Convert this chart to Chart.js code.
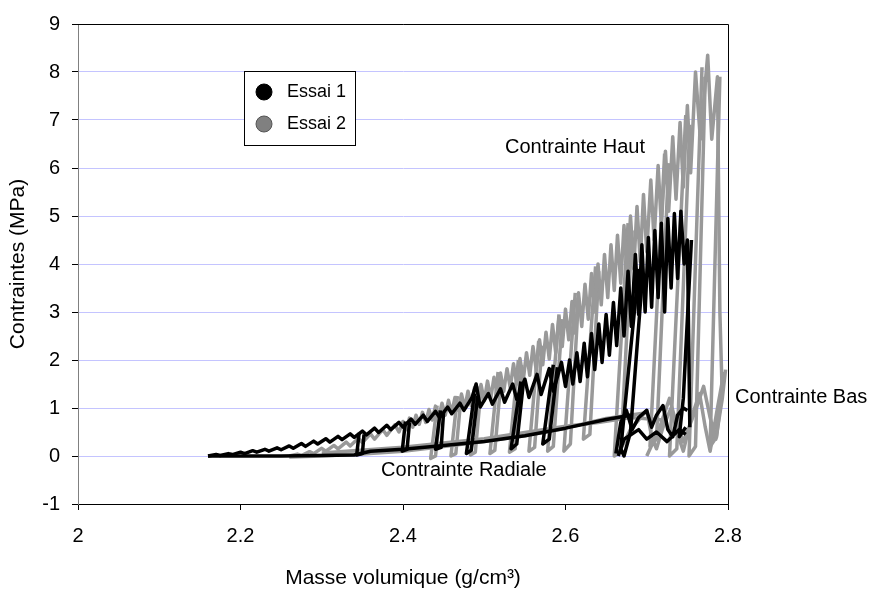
<!DOCTYPE html>
<html>
<head>
<meta charset="utf-8">
<script src="https://cdn.jsdelivr.net/npm/chart.js@4.4.1/dist/chart.umd.min.js"></script>
<style>
  html, body { margin: 0; padding: 0; background: #fff; }
  #wrap { width: 871px; height: 589px; }
</style>
</head>
<body>
<div id="wrap"><canvas id="chart" width="871" height="589"></canvas></div>
<script>
// Essai 1 (noir) : contrainte haut, cycles de decharge, radiale, bas
const essai1Haut = [[2.160,0.00],[2.170,0.03],[2.175,0.01],[2.185,0.05],[2.190,0.03],[2.200,0.08],[2.205,0.05],[2.215,0.11],[2.220,0.08],[2.230,0.14],[2.235,0.10],[2.245,0.17],[2.250,0.13],[2.260,0.21],[2.265,0.16],[2.275,0.26],[2.280,0.20],[2.290,0.31],[2.295,0.25],[2.305,0.36],[2.310,0.29],[2.320,0.41],[2.325,0.34],[2.335,0.46],[2.340,0.39],[2.350,0.52],[2.355,0.44],[2.365,0.58],[2.370,0.49],[2.380,0.64],[2.385,0.55],[2.395,0.70],[2.400,0.60],[2.410,0.77],[2.415,0.66],[2.425,0.85],[2.430,0.72],[2.440,0.93],[2.445,0.80],[2.455,1.02],[2.460,0.88],[2.470,1.10],[2.475,0.95],[2.485,1.22],[2.490,1.50],[2.495,1.02],[2.505,1.30],[2.510,1.08],[2.520,1.40],[2.525,1.12],[2.535,1.50],[2.540,1.18],[2.550,1.60],[2.555,1.22],[2.565,1.70],[2.570,1.28],[2.580,1.82],[2.585,1.35],[2.595,1.95],[2.600,1.45],[2.605,2.00],[2.609,1.50],[2.614,2.15],[2.618,1.55],[2.623,2.35],[2.627,1.65],[2.632,2.55],[2.636,1.80],[2.641,2.75],[2.645,1.95],[2.650,2.95],[2.654,2.10],[2.659,3.20],[2.663,2.30],[2.668,3.50],[2.672,2.50],[2.677,3.85],[2.681,2.70],[2.686,4.20],[2.690,2.95],[2.694,4.40],[2.698,3.00],[2.702,4.55],[2.706,3.10],[2.710,4.70],[2.714,3.30],[2.718,4.85],[2.722,3.00],[2.726,4.95],[2.730,3.50],[2.734,5.05],[2.738,3.70],[2.742,5.10],[2.746,4.00],[2.750,4.50],[2.753,0.60]];
const essai1Decharge = [[2.346,0.48],[2.343,0.02],[2.350,0.05],[2.352,0.45],null,[2.403,0.72],[2.399,0.10],[2.405,0.14],[2.408,0.70],null,[2.446,0.95],[2.440,0.14],[2.447,0.18],[2.450,0.92],null,[2.488,1.30],[2.478,0.05],[2.484,0.12],[2.492,1.25],null,[2.545,1.55],[2.533,0.15],[2.540,0.25],[2.548,1.50],null,[2.585,1.90],[2.572,0.25],[2.580,0.35],[2.590,1.85],null,[2.690,3.90],[2.668,0.15],[2.672,0.00],[2.680,0.50],[2.695,3.80],null,[2.755,4.50],[2.745,1.20],[2.740,0.40],[2.748,0.60]];
const essai1Radiale = [[2.160,0.00],[2.250,0.00],[2.340,0.02],[2.360,0.10],[2.400,0.14],[2.450,0.22],[2.500,0.30],[2.550,0.42],[2.600,0.58],[2.650,0.76],[2.680,0.85]];
const essai1Bas = [[2.662,0.05],[2.668,0.70],[2.675,0.95],[2.682,0.55],[2.690,0.80],[2.700,0.95],[2.706,0.60],[2.712,0.85],[2.720,1.05],[2.726,0.55],[2.732,0.40],[2.738,0.85],[2.745,1.00],[2.750,0.95],null,[2.665,0.00],[2.672,0.35],[2.690,0.55],[2.700,0.35],[2.712,0.50],[2.725,0.30],[2.740,0.55],[2.748,0.45]];

// Essai 2 (gris)
const essai2Haut = [[2.260,0.00],[2.270,0.04],[2.275,0.01],[2.285,0.09],[2.290,0.05],[2.300,0.16],[2.305,0.10],[2.315,0.22],[2.320,0.15],[2.330,0.29],[2.335,0.21],[2.345,0.37],[2.350,0.28],[2.360,0.46],[2.365,0.35],[2.375,0.55],[2.380,0.43],[2.390,0.65],[2.395,0.50],[2.400,0.72],[2.404,0.55],[2.408,0.79],[2.412,0.60],[2.416,0.85],[2.420,0.66],[2.424,0.91],[2.428,0.70],[2.432,0.97],[2.436,0.75],[2.440,1.04],[2.444,0.80],[2.448,1.10],[2.452,0.85],[2.456,1.16],[2.460,0.90],[2.464,1.22],[2.468,0.95],[2.472,1.29],[2.476,1.00],[2.480,1.35],[2.484,1.05],[2.488,1.42],[2.492,1.10],[2.496,1.49],[2.500,1.15],[2.504,1.56],[2.508,1.20],[2.512,1.64],[2.516,1.28],[2.520,1.73],[2.524,1.35],[2.528,1.82],[2.532,1.42],[2.536,1.92],[2.540,1.50],[2.544,2.03],[2.548,1.58],[2.552,2.15],[2.556,1.68],[2.560,2.28],[2.564,1.78],[2.568,2.42],[2.572,1.90],[2.576,2.58],[2.580,2.02],[2.584,2.74],[2.588,2.15],[2.592,2.90],[2.596,2.28],[2.600,3.06],[2.604,2.42],[2.608,3.22],[2.612,2.56],[2.616,3.40],[2.620,2.70],[2.624,3.58],[2.628,2.85],[2.632,3.80],[2.636,3.00],[2.640,4.00],[2.644,3.15],[2.648,4.20],[2.652,3.30],[2.656,4.40],[2.660,3.45],[2.664,4.60],[2.668,3.60],[2.672,4.80],[2.676,3.75],[2.680,5.00],[2.684,3.90],[2.688,5.20],[2.692,4.05],[2.696,5.45],[2.700,4.25],[2.705,5.75],[2.709,4.50],[2.714,6.05],[2.718,4.80],[2.723,6.35],[2.727,5.10],[2.732,6.65],[2.736,5.35],[2.741,6.95],[2.745,5.60],[2.750,7.30],[2.754,5.90],[2.760,8.00],[2.766,6.60],[2.775,8.35],[2.780,6.60],[2.787,7.90],[2.790,3.00],[2.793,1.20]];
const essai2Decharge = [[2.442,1.05],[2.434,-0.05],[2.440,0.00],[2.446,0.95],null,[2.467,1.25],[2.459,0.00],[2.465,0.05],[2.471,1.15],null,[2.492,1.45],[2.483,0.02],[2.489,0.08],[2.496,1.40],null,[2.517,1.75],[2.507,0.05],[2.513,0.12],[2.521,1.65],null,[2.542,2.00],[2.531,0.08],[2.538,0.15],[2.546,1.90],null,[2.567,2.40],[2.555,0.10],[2.562,0.18],[2.571,2.30],null,[2.592,2.95],[2.578,0.10],[2.585,0.20],[2.596,2.85],null,[2.612,3.40],[2.598,0.10],[2.606,0.25],[2.616,3.30],null,[2.637,3.95],[2.622,0.35],[2.630,0.45],[2.641,3.85],null,[2.677,4.85],[2.660,0.00],[2.668,0.10],[2.682,4.70],null,[2.722,6.30],[2.704,0.20],[2.712,0.35],[2.727,6.10],null,[2.748,7.10],[2.728,0.00],[2.737,0.15],[2.753,6.90],null,[2.768,8.10],[2.752,0.00],[2.760,0.20],[2.772,7.90],null,[2.790,7.90],[2.778,0.20],[2.786,0.40],[2.794,1.60]];
const essai2Radiale = [[2.260,-0.02],[2.300,0.00],[2.350,0.04],[2.400,0.10],[2.450,0.20],[2.500,0.30],[2.550,0.42],[2.600,0.58],[2.650,0.78],[2.700,0.90],null,[2.300,0.06],[2.400,0.18],[2.500,0.36],[2.600,0.62],[2.640,0.70],[2.680,0.80],[2.720,0.75]];
const essai2Bas = [[2.665,0.05],[2.680,0.55],[2.690,0.75],[2.700,0.95],[2.706,0.40],[2.712,0.15],[2.720,0.60],[2.730,1.00],[2.738,0.45],[2.745,0.10],[2.755,0.80],[2.765,1.30],[2.772,0.60],[2.778,0.10],[2.786,0.90],[2.795,1.75],null,[2.700,0.00],[2.715,0.55],[2.728,1.20],[2.736,0.70],[2.745,0.30],[2.760,0.95],[2.770,1.45],[2.778,0.80],[2.785,0.35],[2.793,1.20],[2.797,1.80]];

const legendLabels = ['Essai 1', 'Essai 2'];
const notes = ['Contrainte Haut', 'Contrainte Bas', 'Contrainte Radiale'];

const FONT = '"Liberation Sans", Arial, sans-serif';
const BLACK = '#000000';
const GREY = '#999999';

const toPts = (arr) => arr.map(p => p ? { x: p[0], y: p[1] } : { x: null, y: null });

const serie = (arr, color) => ({
  data: toPts(arr),
  showLine: true,
  borderColor: color,
  backgroundColor: color,
  borderWidth: 3.5,
  pointRadius: 0,
  tension: 0,
  spanGaps: false,
  borderJoinStyle: 'round'
});

// black first so it is drawn on top
const datasets = [
  serie(essai1Haut, BLACK),
  serie(essai1Decharge, BLACK),
  serie(essai1Radiale, BLACK),
  serie(essai1Bas, BLACK),
  serie(essai2Haut, GREY),
  serie(essai2Decharge, GREY),
  serie(essai2Radiale, GREY),
  serie(essai2Bas, GREY)
];

const decor = {
  id: 'decor',
  afterDraw(chart) {
    const { ctx, chartArea: a, scales } = chart;
    const x = scales.x, y = scales.y;
    ctx.save();
    // top + right frame
    ctx.strokeStyle = '#000';
    ctx.lineWidth = 1;
    ctx.beginPath();
    ctx.moveTo(a.left, a.top + 0.5);
    ctx.lineTo(a.right + 0.5, a.top + 0.5);
    ctx.lineTo(a.right + 0.5, a.bottom);
    ctx.stroke();

    // curve labels
    ctx.fillStyle = '#000';
    ctx.font = '20px ' + FONT;
    ctx.textBaseline = 'middle';
    ctx.textAlign = 'left';
    ctx.fillText(notes[0], x.getPixelForValue(2.5255), y.getPixelForValue(6.43));
    ctx.fillText(notes[1], x.getPixelForValue(2.8086), y.getPixelForValue(1.22));
    ctx.fillText(notes[2], x.getPixelForValue(2.373), y.getPixelForValue(-0.31));

    // legend box
    const lx = 244, ly = 71, lw = 111, lh = 74;
    ctx.fillStyle = '#fff';
    ctx.fillRect(lx, ly, lw, lh);
    ctx.strokeStyle = '#000';
    ctx.strokeRect(lx + 0.5, ly + 0.5, lw, lh);
    const rows = [[BLACK, '#000', 92], ['#808080', '#555', 124]];
    rows.forEach((r, i) => {
      ctx.beginPath();
      ctx.arc(264, r[2], 8, 0, Math.PI * 2);
      ctx.fillStyle = r[0];
      ctx.fill();
      ctx.strokeStyle = r[1];
      ctx.lineWidth = 1;
      ctx.stroke();
      ctx.fillStyle = '#000';
      ctx.font = '18px ' + FONT;
      ctx.fillText(legendLabels[i], 287, r[2]);
    });
    ctx.restore();
  }
};

new Chart(document.getElementById('chart'), {
  type: 'scatter',
  data: { datasets },
  plugins: [decor],
  options: {
    responsive: false,
    animation: false,
    layout: { padding: { left: 0, top: 20, right: 143, bottom: 0 } },
    plugins: { legend: { display: false }, tooltip: { enabled: false } },
    scales: {
      x: {
        type: 'linear',
        min: 2,
        max: 2.8,
        afterFit: (s) => { s.height = 85; },
        border: { color: '#000', width: 1 },
        grid: { drawOnChartArea: false, drawTicks: true, tickLength: 6, tickColor: '#000' },
        ticks: { stepSize: 0.2, padding: 14, color: '#000', font: { family: FONT, size: 20 },
          callback: (v) => String(+v.toFixed(1)) },
        title: { display: true, text: 'Masse volumique (g/cm³)', color: '#000', font: { family: FONT, size: 21 }, padding: { top: 0, bottom: -2 } }
      },
      y: {
        min: -1,
        max: 9,
        afterFit: (s) => { s.width = 78; },
        border: { color: '#808080', width: 1 },
        grid: { color: '#c4c4ff', lineWidth: 1, tickLength: 6, tickColor: '#000' },
        ticks: { stepSize: 1, padding: 12, color: '#000', font: { family: FONT, size: 20 } },
        title: { display: true, text: 'Contraintes (MPa)', color: '#000', font: { family: FONT, size: 21 }, padding: { top: 6, bottom: 0 } }
      }
    }
  }
});
</script>
</body>
</html>
